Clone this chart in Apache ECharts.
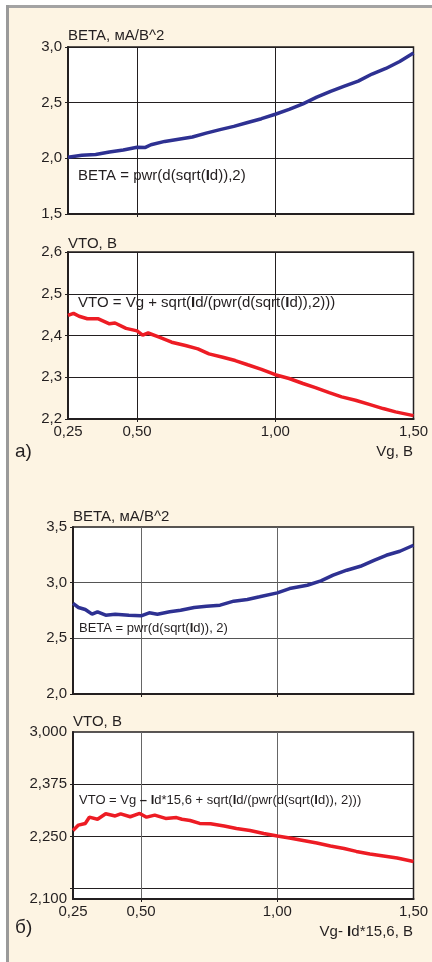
<!DOCTYPE html>
<html>
<head>
<meta charset="utf-8">
<script src="https://cdn.jsdelivr.net/npm/echarts@6.0.0/dist/echarts.min.js"></script>
<style>
  html, body { margin: 0; padding: 0; background: #fff; }
  #chart { width: 432px; height: 962px; }
</style>
</head>
<body>
<div id="chart"></div>
<script>
// x ticks / labels (Vg, B)
const xLabelValues = [0.25, 0.5, 1.0, 1.5];
const xGridValues = [0.5, 1.0];

// (a) BETA vs Vg
const vgBetaA = [0.25, 0.30, 0.35, 0.40, 0.45, 0.50, 0.53, 0.55, 0.60, 0.65, 0.70, 0.75, 0.80, 0.85, 0.90, 0.95, 1.00, 1.05, 1.10, 1.15, 1.20, 1.25, 1.30, 1.35, 1.40, 1.45, 1.50];
const betaA = [2.01, 2.027, 2.035, 2.057, 2.075, 2.10, 2.098, 2.122, 2.152, 2.172, 2.192, 2.226, 2.258, 2.287, 2.322, 2.356, 2.396, 2.439, 2.489, 2.55, 2.602, 2.648, 2.694, 2.757, 2.807, 2.87, 2.946];

// (a) VTO vs Vg
const vgVtoA = [0.25, 0.27, 0.29, 0.32, 0.36, 0.40, 0.42, 0.46, 0.50, 0.52, 0.54, 0.58, 0.625, 0.675, 0.72, 0.76, 0.81, 0.855, 0.90, 0.95, 1.00, 1.05, 1.10, 1.145, 1.195, 1.24, 1.29, 1.34, 1.39, 1.435, 1.50];
const vtoA = [2.448, 2.453, 2.446, 2.44, 2.44, 2.428, 2.43, 2.417, 2.411, 2.401, 2.406, 2.396, 2.384, 2.376, 2.368, 2.356, 2.348, 2.34, 2.33, 2.319, 2.306, 2.297, 2.285, 2.275, 2.263, 2.253, 2.245, 2.235, 2.225, 2.217, 2.208];

// (б) BETA vs Vg - Id*15,6
const vgBetaB = [0.25, 0.27, 0.295, 0.32, 0.34, 0.37, 0.405, 0.455, 0.50, 0.53, 0.56, 0.605, 0.645, 0.695, 0.74, 0.79, 0.84, 0.89, 0.935, 1.00, 1.045, 1.11, 1.16, 1.205, 1.255, 1.305, 1.355, 1.40, 1.45, 1.50];
const betaB = [2.815, 2.777, 2.759, 2.717, 2.738, 2.708, 2.717, 2.708, 2.702, 2.729, 2.717, 2.738, 2.753, 2.777, 2.789, 2.798, 2.834, 2.849, 2.873, 2.908, 2.947, 2.977, 3.016, 3.067, 3.112, 3.147, 3.201, 3.246, 3.282, 3.336];

// (б) VTO vs Vg - Id*15,6
const vgVtoB = [0.25, 0.27, 0.295, 0.31, 0.34, 0.37, 0.405, 0.425, 0.46, 0.495, 0.52, 0.55, 0.59, 0.63, 0.65, 0.68, 0.715, 0.755, 0.805, 0.85, 0.90, 0.95, 1.00, 1.045, 1.095, 1.145, 1.195, 1.245, 1.29, 1.34, 1.39, 1.44, 1.50];
const vtoB = [2.264, 2.277, 2.281, 2.296, 2.291, 2.304, 2.299, 2.304, 2.297, 2.305, 2.296, 2.301, 2.293, 2.295, 2.291, 2.288, 2.281, 2.28, 2.275, 2.269, 2.264, 2.257, 2.251, 2.246, 2.24, 2.234, 2.227, 2.221, 2.214, 2.208, 2.203, 2.198, 2.19];

// odd y scale of the last panel, labels as printed
const vtoBTickValues = [2.1, 2.25, 2.375, 2.5];
const vtoBTickLabels = ["2,100", "2,250", "2,375", "3,000"];
const vtoBGridValues = [2.125, 2.25, 2.375];

const FONT = '"Liberation Sans", Arial, Helvetica, sans-serif';
const INK = "#231f20";
const BLUE = "#2e3192";
const RED = "#ed1c24";

const zip = (xs, ys) => xs.map((x, i) => [x, ys[i]]);
const comma = (v, d) => v.toFixed(d).replace(".", ",");

function makeGrid(left, top) {
  return {
    left: left, top: top, width: 413.5 - left, height: 167,
    show: true, backgroundColor: "#ffffff",
    borderColor: INK, borderWidth: 1.5,
  };
}

function makeX(gridIndex, showLabels, splitColor) {
  return {
    type: "value", gridIndex: gridIndex, min: 0.25, max: 1.5,
    axisLine: { show: true, onZero: false, lineStyle: { color: INK, width: 2 } },
    axisTick: { show: true, length: 3, customValues: xGridValues, lineStyle: { color: INK } },
    axisLabel: {
      show: showLabels, customValues: xLabelValues, margin: 5,
      fontSize: 15, color: INK, fontFamily: FONT,
      formatter: (v) => comma(v, 2),
    },
    splitLine: { show: true, lineStyle: { color: splitColor, width: 1 } },
  };
}

function makeY(gridIndex, name, nameGap, min, max, interval, splitColor) {
  return {
    type: "value", gridIndex: gridIndex, min: min, max: max, interval: interval,
    name: name, nameLocation: "end", nameGap: nameGap,
    nameTextStyle: { align: "left", fontSize: 15, color: INK, fontFamily: FONT },
    axisLine: { show: true, onZero: false, lineStyle: { color: INK, width: 2 } },
    axisTick: { show: true, length: 3, lineStyle: { color: INK } },
    axisLabel: {
      margin: 6, fontSize: 15, color: INK, fontFamily: FONT,
      formatter: (v) => comma(v, 1),
    },
    splitLine: { show: true, lineStyle: { color: splitColor, width: 1 } },
  };
}

const yVtoB = makeY(3, "VTO, В", 3, 2.1, 2.5, null, "#231f20");
delete yVtoB.interval;
yVtoB.axisTick.customValues = vtoBGridValues;
yVtoB.axisLabel.customValues = vtoBTickValues;
yVtoB.axisLabel.formatter = (v) => {
  const i = vtoBTickValues.findIndex((t) => Math.abs(t - v) < 1e-6);
  return i >= 0 ? vtoBTickLabels[i] : "";
};

function label(x, y, text, size, align, extra) {
  return Object.assign({
    type: "text", x: x, y: y, z: 100,
    style: {
      text: text, fill: INK, fontSize: size, fontFamily: FONT,
      align: align || "left", verticalAlign: "middle",
      rich: { b: { fontWeight: "bold", fontSize: size, fontFamily: FONT, fill: INK } },
    },
  }, extra || {});
}

var chart = echarts.init(document.getElementById("chart"), null, { renderer: "canvas" });
var option = {
  animation: false,
  backgroundColor: "#fdf4e3",
  textStyle: { fontFamily: FONT },
  grid: [makeGrid(68, 47), makeGrid(68, 252), makeGrid(73, 527), makeGrid(73, 732)],
  xAxis: [makeX(0, false, INK), makeX(1, true, INK), makeX(2, false, "#666"), makeX(3, true, "#666")],
  yAxis: [
    makeY(0, "BETA, мА/В^2", 4, 1.5, 3.0, 0.5, INK),
    makeY(1, "VTO, В", 1, 2.2, 2.6, 0.1, INK),
    makeY(2, "BETA, мА/В^2", 3, 2.0, 3.5, 0.5, "#555"),
    yVtoB,
  ],
  series: [
    { type: "line", xAxisIndex: 0, yAxisIndex: 0, data: zip(vgBetaA, betaA), showSymbol: false, lineStyle: { color: BLUE, width: 3.5 }, z: 5 },
    { type: "line", xAxisIndex: 1, yAxisIndex: 1, data: zip(vgVtoA, vtoA), showSymbol: false, lineStyle: { color: RED, width: 3.5 }, z: 5 },
    { type: "line", xAxisIndex: 2, yAxisIndex: 2, data: zip(vgBetaB, betaB), showSymbol: false, lineStyle: { color: BLUE, width: 3.5 }, z: 5 },
    { type: "line", xAxisIndex: 3, yAxisIndex: 3, data: zip(vgVtoB, vtoB), showSymbol: false, lineStyle: { color: RED, width: 3.5 }, z: 5 },
  ],
  graphic: [
    // page edges
    { type: "rect", shape: { x: 0, y: 0, width: 432, height: 5 }, style: { fill: "#ffffff" } },
    { type: "rect", shape: { x: 0, y: 0, width: 6, height: 962 }, style: { fill: "#ffffff" } },
    { type: "rect", shape: { x: 6, y: 5, width: 426, height: 3 }, style: { fill: "#a3a3a3" } },
    { type: "rect", shape: { x: 6, y: 5, width: 3, height: 957 }, style: { fill: "#9a9a9a" } },
    // formulas
    label(78, 176, "BETA = pwr(d(sqrt({b|I}d)),2)", 15),
    label(78, 303, "VTO = Vg + sqrt({b|I}d/(pwr(d(sqrt({b|I}d)),2)))", 15),
    label(79, 628, "BETA = pwr(d(sqrt({b|I}d)), 2)", 13),
    label(79, 800, "VTO = Vg {b|–} {b|I}d*15,6 + sqrt({b|I}d/(pwr(d(sqrt({b|I}d)), 2)))", 13),
    // panel marks and x axis titles
    label(15, 452, "а)", 19),
    label(15, 928, "б)", 19),
    label(413, 452, "Vg, В", 15, "right"),
    label(413, 932, "Vg- {b|I}d*15,6, В", 15, "right"),
  ],
};
option && chart.setOption(option);
</script>
</body>
</html>
